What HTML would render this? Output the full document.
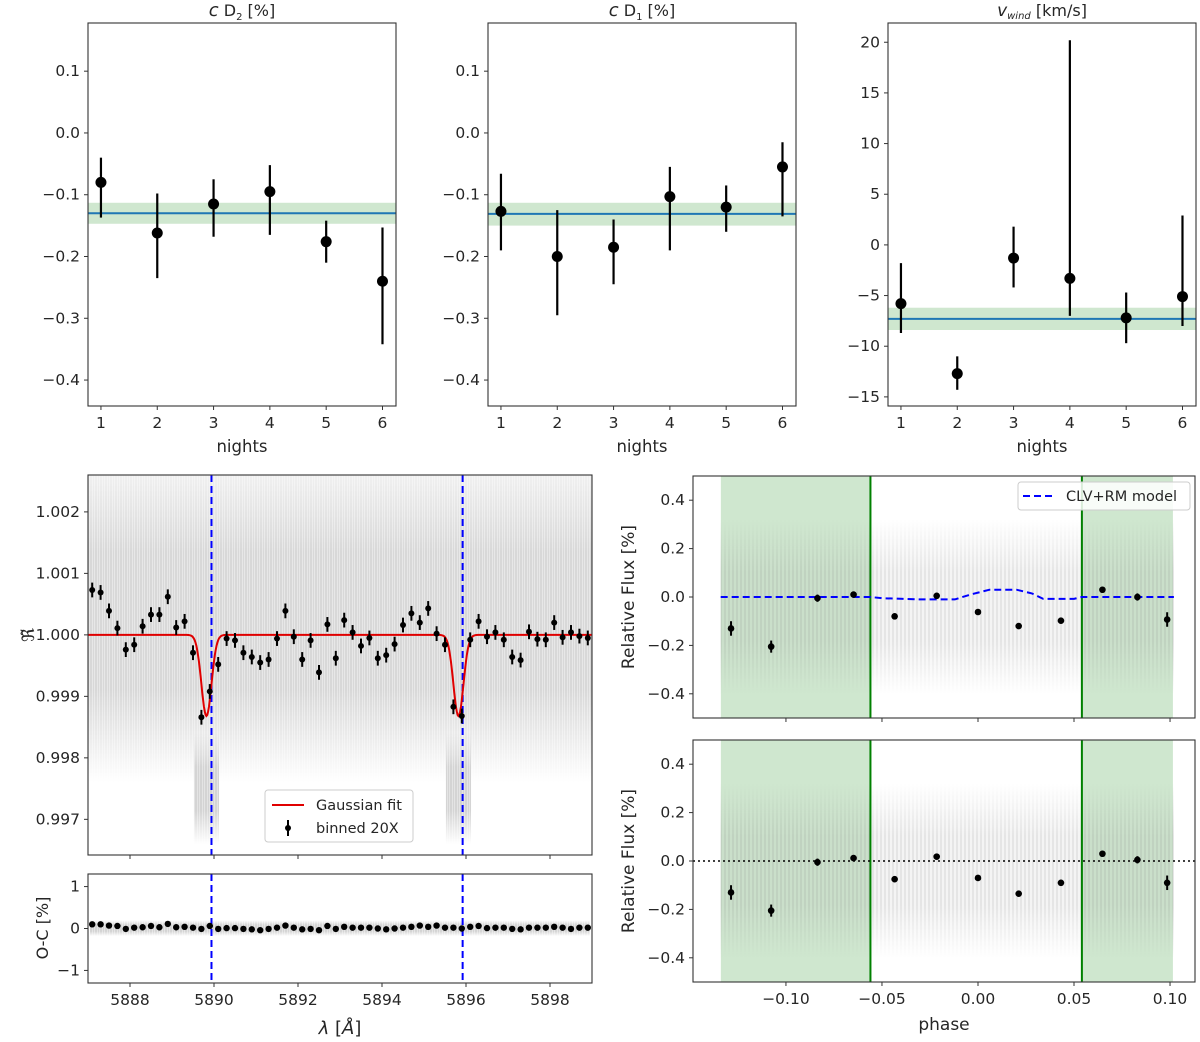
<!DOCTYPE html>
<html><head><meta charset="utf-8">
<style>
html,body{margin:0;padding:0;background:#fff;}
svg{display:block;font-family:"DejaVu Sans","Liberation Sans",sans-serif;}
</style></head>
<body>
<svg id="fig" width="1200" height="1042" viewBox="0 0 1200 1042" xmlns="http://www.w3.org/2000/svg">
<defs>
<pattern id="stripes" width="5" height="40" patternUnits="userSpaceOnUse">
<rect width="5" height="40" fill="#e4e4e4"/>
<line x1="1" y1="0" x2="1" y2="40" stroke="#c4c4c4" stroke-width="1"/>
<line x1="3.5" y1="0" x2="3.5" y2="40" stroke="#d4d4d4" stroke-width="1"/>
</pattern>
<pattern id="stripes2" width="4" height="40" patternUnits="userSpaceOnUse">
<line x1="1" y1="0" x2="1" y2="40" stroke="rgba(140,140,140,0.45)" stroke-width="1"/>
<line x1="3" y1="0" x2="3" y2="40" stroke="rgba(180,180,180,0.3)" stroke-width="1"/>
</pattern>
<linearGradient id="fadeV" x1="0" y1="0" x2="0" y2="1">
<stop offset="0" stop-color="#fff" stop-opacity="0.35"/>
<stop offset="0.25" stop-color="#fff" stop-opacity="0.9"/>
<stop offset="0.7" stop-color="#fff" stop-opacity="0.9"/>
<stop offset="1" stop-color="#fff" stop-opacity="0"/>
</linearGradient>
<linearGradient id="fadeV2" x1="0" y1="0" x2="0" y2="1">
<stop offset="0" stop-color="#fff" stop-opacity="0"/>
<stop offset="0.3" stop-color="#fff" stop-opacity="1"/>
<stop offset="0.7" stop-color="#fff" stop-opacity="1"/>
<stop offset="1" stop-color="#fff" stop-opacity="0"/>
</linearGradient>
<mask id="maskSpec" maskContentUnits="objectBoundingBox"><rect width="1" height="1" fill="url(#fadeV)"/></mask>
<mask id="maskPh" maskContentUnits="objectBoundingBox"><rect width="1" height="1" fill="url(#fadeV2)"/></mask>
</defs>
</svg>
<script>
// ---------- data ----------
const nights = [1,2,3,4,5,6];
const d2Val = [-0.080,-0.162,-0.115,-0.095,-0.176,-0.240];
const d2Lo  = [-0.137,-0.235,-0.168,-0.165,-0.210,-0.342];
const d2Hi  = [-0.040,-0.098,-0.075,-0.052,-0.142,-0.153];
const d2Mean = [-0.130,-0.147,-0.113];
const d1Val = [-0.127,-0.200,-0.185,-0.103,-0.120,-0.055];
const d1Lo  = [-0.190,-0.295,-0.245,-0.190,-0.160,-0.135];
const d1Hi  = [-0.066,-0.125,-0.140,-0.055,-0.085,-0.015];
const d1Mean = [-0.131,-0.150,-0.113];
const vwVal = [-5.8,-12.7,-1.3,-3.3,-7.2,-5.1];
const vwLo  = [-8.7,-14.3,-4.2,-7.0,-9.7,-8.0];
const vwHi  = [-1.8,-11.0,1.8,20.2,-4.7,2.9];
const vwMean = [-7.3,-8.4,-6.2];

const specWave = [5887.1,5887.3,5887.5,5887.7,5887.9,5888.1,5888.3,5888.5,5888.7,5888.9,
5889.1,5889.3,5889.5,5889.7,5889.9,5890.1,5890.3,5890.5,5890.7,5890.9,
5891.1,5891.3,5891.5,5891.7,5891.9,5892.1,5892.3,5892.5,5892.7,5892.9,
5893.1,5893.3,5893.5,5893.7,5893.9,5894.1,5894.3,5894.5,5894.7,5894.9,
5895.1,5895.3,5895.5,5895.7,5895.9,5896.1,5896.3,5896.5,5896.7,5896.9,
5897.1,5897.3,5897.5,5897.7,5897.9,5898.1,5898.3,5898.5,5898.7,5898.9];
const specVal = [1.00073,1.00069,1.00039,1.00011,0.99976,0.99984,1.00014,1.00033,1.00033,1.00062,
1.00012,1.00022,0.99971,0.99866,0.99908,0.99952,0.99994,0.99991,0.99971,0.99964,
0.99955,0.99960,0.99994,1.00039,0.99997,0.99960,0.99991,0.99939,1.00017,0.99962,
1.00024,1.00004,0.99982,0.99995,0.99962,0.99967,0.99985,1.00016,1.00035,1.00020,
1.00043,1.00002,0.99984,0.99883,0.99868,0.99992,1.00022,0.99997,1.00004,0.99992,
0.99964,0.99959,1.00005,0.99993,0.99992,1.00020,0.99996,1.00004,0.99998,0.99995];
const specErr = 0.00012;
const resVal = [0.1,0.1,0.07,0.06,-0.01,0.02,0.03,0.06,0.03,0.11,0.03,0.04,0.02,-0.01,0.06,-0.01,0.01,0.01,-0.01,-0.02,
-0.04,-0.01,0.02,0.07,0.02,-0.02,-0.01,-0.04,0.06,-0.01,0.04,0.02,0.02,0.02,0,-0.02,0,0.02,0.04,0.07,
0.04,0.07,0.02,0.02,0,0.04,0.06,0.01,0.02,0.02,-0.01,-0.02,0.02,0.02,0.02,0.04,0.02,-0.01,0.02,0.02];
const lineCenters = [5889.94,5895.92];
const fitCenters = [5889.82,5895.82];
const fitDepth = [0.00132,0.00132];
const fitSigma = [0.12,0.12];

const phBin = [-0.1286,-0.1077,-0.0836,-0.0648,-0.0434,-0.0215,0.0,0.0212,0.0432,0.0648,0.083,0.0985];
const rf1Val = [-0.13,-0.205,-0.005,0.01,-0.08,0.005,-0.062,-0.12,-0.098,0.03,0.0,-0.093];
const rf2Val = [-0.13,-0.205,-0.005,0.012,-0.075,0.018,-0.07,-0.135,-0.09,0.03,0.005,-0.09];
const rfErr = [0.03,0.025,0.015,0.012,0.01,0.012,0.01,0.01,0.012,0.012,0.015,0.03];
const modelPh = [-0.134,-0.056,-0.05,-0.03,-0.012,-0.004,0.006,0.02,0.028,0.034,0.05,0.054,0.102];
const modelVal = [0,0,-0.005,-0.01,-0.01,0.01,0.03,0.03,0.015,-0.008,-0.008,0,0];
const outTransit = [[-0.1339,-0.0560],[0.0541,0.1015]];

// ---------- helpers ----------
const NS="http://www.w3.org/2000/svg";
const svg=document.getElementById('fig');
function el(tag,attrs,parent){const e=document.createElementNS(NS,tag);for(const k in attrs)e.setAttribute(k,attrs[k]);(parent||svg).appendChild(e);return e;}
function txt(s,attrs,parent){const e=el('text',Object.assign({fill:'#262626','font-size':15.5},attrs),parent);e.textContent=s;return e;}
function lin(d0,d1,r0,r1){return v=>r0+(v-d0)/(d1-d0)*(r1-r0);}
function fmt(v,dec){const s=Math.abs(v).toFixed(dec);return (v<-1e-12?'\u2212':'')+s;}

function frame(g,x0,y0,x1,y1){
  const f=el('rect',{x:x0,y:y0,width:x1-x0,height:y1-y0,fill:'none',stroke:'#333','stroke-width':1.1},g);
  
  
}
function yTicks(g,ys,ticks,x0,dec,show){
  ticks.forEach(t=>{
    const y=ys(t);
    const tk=el('line',{x1:x0-4,x2:x0,y1:y,y2:y,stroke:'#333','stroke-width':1},g);
    
    
    if(show!==false){
      const l=txt(fmt(t,dec),{x:x0-8,y:y+5,'text-anchor':'end'},g);
      
      
    }
  });
}
function xTicks(g,xs,ticks,y1,dec,show){
  ticks.forEach(t=>{
    const x=xs(t);
    const tk=el('line',{x1:x,x2:x,y1:y1,y2:y1+4,stroke:'#333','stroke-width':1},g);
    
    
    if(show!==false){
      const l=txt(fmt(t,dec),{x:x,y:y1+22,'text-anchor':'middle'},g);
      
      
    }
  });
}
function errPoint(g,x,y,ylo,yhi,r,w,name){
  const b=el('line',{x1:x,x2:x,y1:ylo,y2:yhi,stroke:'#000','stroke-width':w},g);
  
  
  const c=el('circle',{cx:x,cy:y,r:r,fill:'#000'},g);
  
  
}

// ---------- top panels ----------
function nightPanel(x0,name,yd,ticks,dec,val,lo,hi,mean,title){
  const g=el('g',{});
  
  
  const x1=x0+308,y0=23,y1=406;
  const xs=lin(0.77,6.24,x0,x1), ys=lin(yd[0],yd[1],y1,y0);
  const band=el('rect',{x:x0,y:ys(mean[2]),width:308,height:ys(mean[1])-ys(mean[2]),fill:'#cfe7cf'},g);
  
  
  const ml=el('line',{x1:x0,x2:x1,y1:ys(mean[0]),y2:ys(mean[0]),stroke:'#1f77b4','stroke-width':2},g);
  
  
  nights.forEach((n,i)=>errPoint(g,xs(n),ys(val[i]),ys(lo[i]),ys(hi[i]),5.5,2.2,'night-'+n+'-point'));
  frame(g,x0,y0,x1,y1);
  yTicks(g,ys,ticks,x0,dec);
  xTicks(g,xs,nights,y1,0);
  const xl=txt('nights',{x:(x0+x1)/2,y:452,'text-anchor':'middle','font-size':16.5},g);
  
  
  title.setAttribute('x',(x0+x1)/2);
  g.appendChild(title);
}
function mkTitle(parts,name){
  const t=document.createElementNS(NS,'text');
  t.setAttribute('y',16);t.setAttribute('text-anchor','middle');t.setAttribute('font-size',16);t.setAttribute('fill','#262626');
  parts.forEach(p=>{const s=document.createElementNS(NS,'tspan');for(const k in p.a)s.setAttribute(k,p.a[k]);s.textContent=p.t;t.appendChild(s);});
  
  
  return t;
}
nightPanel(88,'panel-c-d2',[-0.442,0.178],[0.1,0,-0.1,-0.2,-0.3,-0.4],1,d2Val,d2Lo,d2Hi,d2Mean,
  mkTitle([{t:'c',a:{'font-style':'italic','font-size':18}},{t:' D',a:{}},{t:'2',a:{'font-size':10,dy:4}},{t:' [%]',a:{dy:-4}}],'title-c-d2'));
nightPanel(488,'panel-c-d1',[-0.442,0.178],[0.1,0,-0.1,-0.2,-0.3,-0.4],1,d1Val,d1Lo,d1Hi,d1Mean,
  mkTitle([{t:'c',a:{'font-style':'italic','font-size':18}},{t:' D',a:{}},{t:'1',a:{'font-size':10,dy:4}},{t:' [%]',a:{dy:-4}}],'title-c-d1'));
nightPanel(888,'panel-vwind',[-15.9,21.9],[20,15,10,5,0,-5,-10,-15],0,vwVal,vwLo,vwHi,vwMean,
  mkTitle([{t:'v',a:{'font-style':'italic','font-size':17}},{t:'wind',a:{'font-style':'italic','font-size':10,dy:3}},{t:' [km/s]',a:{dy:-3}}],'title-vwind'));

// ---------- spectrum panel ----------
(function(){
  const g=el('g',{});
  
  
  const x0=88,x1=592,y0=475,y1=855;
  const xs=lin(5887,5899,x0,x1), ys=lin(0.99642,1.0026,y1,y0);
  const cl=el('clipPath',{id:'clipSpec'},g);
  el('rect',{x:x0,y:y0,width:x1-x0,height:y1-y0},cl);
  const cg=el('g',{'clip-path':'url(#clipSpec)'},g);
  const cloud=el('rect',{x:x0,y:ys(1.0026),width:x1-x0,height:ys(0.9976)-ys(1.0026),fill:'url(#stripes)',mask:'url(#maskSpec)'},cg);
  
  
  fitCenters.forEach(c=>{
    const r=el('rect',{x:xs(c-0.3),y:ys(0.9984),width:xs(c+0.3)-xs(c-0.3),height:ys(0.9966)-ys(0.9984),fill:'url(#stripes)',mask:'url(#maskPh)'},cg);
    
    
  });
  lineCenters.forEach(c=>{
    const l=el('line',{x1:xs(c),x2:xs(c),y1:y0,y2:y1,stroke:'#0000ff','stroke-width':2,'stroke-dasharray':'7,4'},cg);
    
    
  });
  let d='';
  for(let w=5887;w<=5899.001;w+=0.02){
    let v=1;fitCenters.forEach((c,k)=>{v-=fitDepth[k]*Math.exp(-0.5*Math.pow((w-c)/fitSigma[k],2));});
    d+=(d?'L':'M')+xs(w).toFixed(1)+','+ys(v).toFixed(1);
  }
  const fit=el('path',{d:d,fill:'none',stroke:'#e00000','stroke-width':2},cg);
  
  
  specWave.forEach((w,i)=>errPoint(cg,xs(w),ys(specVal[i]),ys(specVal[i]-specErr),ys(specVal[i]+specErr),3,2,'binned-point'));
  frame(g,x0,y0,x1,y1);
  yTicks(g,ys,[1.002,1.001,1.000,0.999,0.998,0.997],x0,3);
  xTicks(g,xs,[5888,5890,5892,5894,5896,5898],y1,0,false);
  const yl=txt('\u211C\u0303',{x:0,y:0,'font-size':17,transform:'translate(34,635) rotate(-90)','text-anchor':'middle'},g);
  
  
  const lg=el('g',{},g);
  
  
  el('rect',{x:265,y:790,width:148,height:52,rx:3,fill:'#fff','fill-opacity':0.85,stroke:'#ccc'},lg);
  const l1=el('line',{x1:272,x2:304,y1:805,y2:805,stroke:'#e00000','stroke-width':2},lg);
  
  
  const t1=txt('Gaussian fit',{x:316,y:810,'font-size':14.5},lg);
  
  
  errPoint(lg,288,828,820,836,3,2,'legend-binned-swatch');
  const t2=txt('binned 20X',{x:316,y:833,'font-size':14.5},lg);
  
  
})();

// ---------- residual panel ----------
(function(){
  const g=el('g',{});
  
  
  const x0=88,x1=592,y0=874,y1=983;
  const xs=lin(5887,5899,x0,x1), ys=lin(-1.3,1.3,y1,y0);
  const cloud=el('rect',{x:x0+2,y:ys(0.2),width:x1-x0-4,height:ys(-0.18)-ys(0.2),fill:'url(#stripes)',mask:'url(#maskPh)'},g);
  
  
  lineCenters.forEach(c=>{
    const l=el('line',{x1:xs(c),x2:xs(c),y1:y0,y2:y1,stroke:'#0000ff','stroke-width':2,'stroke-dasharray':'7,4'},g);
    
    
  });
  specWave.forEach((w,i)=>{
    const c=el('circle',{cx:xs(w),cy:ys(resVal[i]),r:3.2,fill:'#000'},g);
    
    
  });
  frame(g,x0,y0,x1,y1);
  yTicks(g,ys,[1,0,-1],x0,0);
  xTicks(g,xs,[5888,5890,5892,5894,5896,5898],y1,0);
  const yl=txt('O-C [%]',{x:0,y:0,'font-size':16,transform:'translate(48,928) rotate(-90)','text-anchor':'middle'},g);
  
  
  const xl=el('text',{x:340,y:1034,'text-anchor':'middle','font-size':18,fill:'#262626'},g);
  
  
  const a=document.createElementNS(NS,'tspan');a.setAttribute('font-style','italic');a.textContent='\u03BB';xl.appendChild(a);
  const b=document.createElementNS(NS,'tspan');b.textContent=' [';xl.appendChild(b);
  const c2=document.createElementNS(NS,'tspan');c2.setAttribute('font-style','italic');c2.textContent='\u00C5';xl.appendChild(c2);
  const d2=document.createElementNS(NS,'tspan');d2.textContent=']';xl.appendChild(d2);
})();

// ---------- phase panels ----------
function phasePanel(y0,name,vals,showModel,showX){
  const g=el('g',{});
  
  
  const x0=693,x1=1195,y1=y0+242;
  const xs=lin(-0.1484,0.113,x0,x1), ys=lin(-0.5,0.5,y1,y0);
  outTransit.forEach(r=>{
    const b=el('rect',{x:xs(r[0]),y:y0,width:xs(r[1])-xs(r[0]),height:y1-y0,fill:'#cfe7cf'},g);
    
    
  });
  const cloud=el('rect',{x:xs(-0.134),y:ys(0.32),width:xs(0.102)-xs(-0.134),height:ys(-0.4)-ys(0.32),fill:'url(#stripes2)',mask:'url(#maskPh)'},g);
  
  
  [-0.0560,0.0541].forEach(p=>{
    const l=el('line',{x1:xs(p),x2:xs(p),y1:y0,y2:y1,stroke:'#008000','stroke-width':2},g);
    
    
  });
  if(showModel){
    const d=modelPh.map((p,i)=>(i?'L':'M')+xs(p).toFixed(1)+','+ys(modelVal[i]).toFixed(1)).join('');
    const m=el('path',{d:d,fill:'none',stroke:'#0000ff','stroke-width':2,'stroke-dasharray':'7,4'},g);
    
    
  } else {
    const z=el('line',{x1:x0,x2:x1,y1:ys(0),y2:ys(0),stroke:'#000','stroke-width':1.5,'stroke-dasharray':'2,3'},g);
    
    
  }
  phBin.forEach((p,i)=>errPoint(g,xs(p),ys(vals[i]),ys(vals[i]-rfErr[i]),ys(vals[i]+rfErr[i]),3.3,2,'binned-phase-point'));
  frame(g,x0,y0,x1,y1);
  yTicks(g,ys,[0.4,0.2,0,-0.2,-0.4],x0,1);
  xTicks(g,xs,[-0.1,-0.05,0,0.05,0.1],y1,2,showX);
  const yl=txt('Relative Flux [%]',{x:0,y:0,'font-size':17,transform:'translate(634,'+(y0+121)+') rotate(-90)','text-anchor':'middle'},g);
  
  
  if(showModel){
    const lg=el('g',{},g);
    
    
    el('rect',{x:1018,y:482,width:172,height:28,rx:3,fill:'#fff','fill-opacity':0.85,stroke:'#ccc'},lg);
    const s=el('line',{x1:1023,x2:1055,y1:496,y2:496,stroke:'#0000ff','stroke-width':2,'stroke-dasharray':'7,4'},lg);
    
    
    const t=txt('CLV+RM model',{x:1066,y:501,'font-size':14.5},lg);
    
    
  }
  if(showX){
    const xl=txt('phase',{x:944,y:1030,'text-anchor':'middle','font-size':17},g);
    
    
  }
}
phasePanel(476,'relative-flux-model-panel',rf1Val,true,false);
phasePanel(740,'relative-flux-panel',rf2Val,false,true);
</script>
</body></html>
